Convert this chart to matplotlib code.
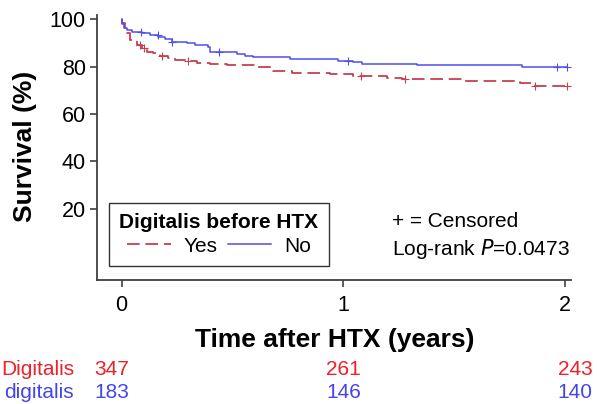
import numpy as np
import matplotlib.pyplot as plt

plt.rcParams['font.family'] = ['Liberation Sans', 'DejaVu Sans']

# Kaplan-Meier steps (time in years, survival in %)
no_t = [0, 0.003, 0.010, 0.023, 0.045, 0.090, 0.128, 0.165, 0.195, 0.225, 0.293,
        0.330, 0.390, 0.398, 0.518, 0.556, 0.592, 0.759, 0.975, 1.043, 1.082,
        1.330, 1.803, 2.006]
no_s = [100, 98.0, 96.5, 95.5, 94.8, 94.1, 93.4, 92.6, 91.5, 90.5, 89.8,
        89.1, 88.4, 86.3, 85.3, 84.6, 84.2, 83.1, 82.4, 81.8, 81.1,
        80.7, 79.8, 79.8]
no_cens_t = [0.087, 0.162, 0.225, 0.439, 1.020, 1.961, 2.006]

yes_t = [0, 0.003, 0.015, 0.037, 0.068, 0.090, 0.113, 0.142, 0.173, 0.210, 0.240,
         0.293, 0.338, 0.398, 0.473, 0.609, 0.682, 0.766, 0.939, 1.043, 1.195,
         1.262, 1.533, 1.796, 1.863, 2.006]
yes_s = [100, 98.3, 94.1, 91.2, 89.1, 87.7, 86.3, 85.6, 84.5, 83.5, 82.8,
         82.5, 81.6, 81.1, 80.7, 79.7, 78.3, 77.2, 76.7, 76.0, 75.3,
         74.8, 73.9, 72.9, 71.8, 71.8]
yes_cens_t = [0.083, 0.101, 0.180, 0.300, 1.078, 1.277, 1.863, 2.006]

risk_yes = [347, 261, 243]
risk_no = [183, 146, 140]

red = '#c8404e'
blue = '#4e4ef0'
red_txt = '#ee2028'
blue_txt = '#4444ee'


def surv_at(times, surv, t):
    # value of the step function at time t
    idx = np.searchsorted(times, t, side='right') - 1
    return np.array(surv)[idx]


fig = plt.figure(figsize=(5.97, 4.04), dpi=100)
ax = fig.add_axes([0.1625, 0.3069, 0.794, 0.656])

ax.plot(yes_t, yes_s, drawstyle='steps-post', color=red, lw=1.3,
        ls=(0, (7, 3.2)), label='Yes')
ax.plot(no_t, no_s, drawstyle='steps-post', color=blue, lw=1.1, label='No')
ax.plot(yes_cens_t, surv_at(yes_t, yes_s, yes_cens_t), ls='none', marker='+',
        ms=5.5, mew=0.8, color=red)
ax.plot(no_cens_t, surv_at(no_t, no_s, no_cens_t), ls='none', marker='+',
        ms=5.5, mew=0.8, color=blue)

ax.set_xlim(-0.111, 2.026)
ax.set_ylim(-10.2, 101.8)
ax.set_xticks([0, 1, 2])
ax.set_yticks([20, 40, 60, 80, 100])
ax.tick_params(labelsize=15.5, length=5, width=1.2, color='#404040')
ax.tick_params(axis='y', pad=3)
ax.tick_params(axis='x', pad=6)
for side in ['top', 'right']:
    ax.spines[side].set_visible(False)
for side in ['left', 'bottom']:
    ax.spines[side].set_color('#404040')
    ax.spines[side].set_linewidth(1.3)

leg = ax.legend(loc='lower left', bbox_to_anchor=(0.025, 0.053), borderaxespad=0,
                ncol=2, title='Digitalis before HTX', fontsize=15,
                title_fontproperties={'weight': 'bold', 'size': 15},
                fancybox=False, edgecolor='black', handlelength=2.1,
                columnspacing=0.5, handletextpad=0.6, borderpad=0.5,
                labelspacing=0.2)
leg.get_frame().set_linewidth(1.0)

ax.text(0.622, 0.201, '+ = Censored', transform=ax.transAxes, fontsize=15,
        va='baseline')
ax.text(0.622, 0.094, 'Log-rank $\\it{P}$=0.0473', transform=ax.transAxes,
        fontsize=15, va='baseline')

fig.text(335 / 597, 1 - 347 / 404, 'Time after HTX (years)', fontsize=19,
         fontweight='bold', ha='center', va='baseline')
fig.text(25 / 597, 1 - 146 / 404, 'Survival (%)', fontsize=19, fontweight='bold',
         rotation=90, ha='center', va='center')

# numbers at risk
fig.text(74 / 597, 1 - 375 / 404, 'Digitalis', color=red_txt, fontsize=15,
         ha='right', va='baseline')
fig.text(74 / 597, 1 - 398 / 404, 'digitalis', color=blue_txt, fontsize=15,
         ha='right', va='baseline')
risk_x = [112, 343.5, 575]
for x, a, b in zip(risk_x, risk_yes, risk_no):
    fig.text(x / 597, 1 - 375 / 404, str(a), color=red_txt, fontsize=15,
             ha='center', va='baseline')
    fig.text(x / 597, 1 - 398 / 404, str(b), color=blue_txt, fontsize=15,
             ha='center', va='baseline')

fig.savefig('out.png', dpi=100)
